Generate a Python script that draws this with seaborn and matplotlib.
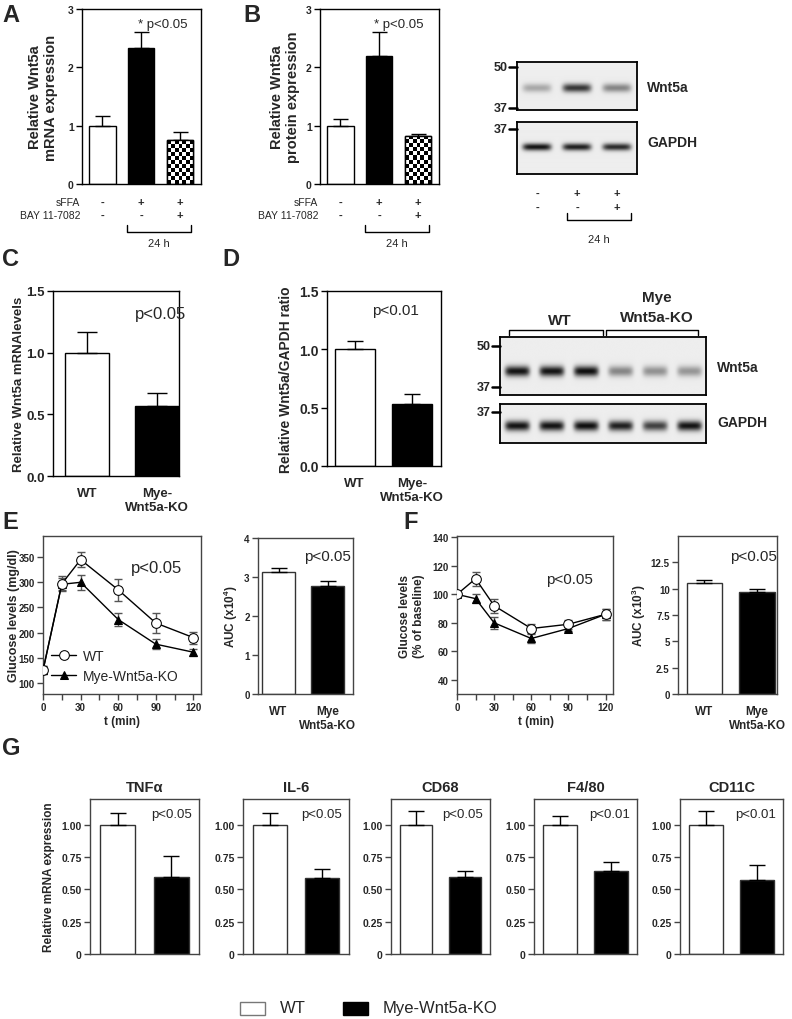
import numpy as np
import pandas as pd
import matplotlib
matplotlib.use("Agg")
import matplotlib.pyplot as plt
import seaborn as sns
from matplotlib.patches import Rectangle
from matplotlib.lines import Line2D

# ---------------- data ----------------
# Panel A (mRNA) and B (protein)
abc_groups = ["ctrl", "sFFA", "sFFA+BAY"]
a_mean = [1.0, 2.33, 0.75]
a_err = [0.16, 0.27, 0.15]
b_mean = [1.0, 2.20, 0.83]
b_err = [0.12, 0.40, 0.03]
sffa_signs = ["-", "+", "+"]
bay_signs = ["-", "-", "+"]
blot1_wnt5a = [0.30, 0.80, 0.45]
blot1_gapdh = [0.95, 0.90, 0.85]

# Panel C / D
cd_groups = ["WT", "Mye-\nWnt5a-KO"]
c_mean = [1.0, 0.57]
c_err = [0.17, 0.10]
d_mean = [1.0, 0.53]
d_err = [0.07, 0.09]
blotd_wnt5a = [0.95, 0.95, 0.97, 0.45, 0.40, 0.38]
blotd_gapdh = [0.95, 0.95, 0.97, 0.90, 0.75, 0.95]

# Panel E / F
t_min = [0, 15, 30, 60, 90, 120]
e_wt = [125, 297, 345, 285, 219, 190]
e_wt_err = [8, 15, 15, 22, 20, 12]
e_ko = [125, 296, 300, 226, 177, 161]
e_ko_err = [8, 12, 15, 12, 10, 7]
auc_groups = ["WT", "Mye\nWnt5a-KO"]
e_auc = [3.12, 2.77]
e_auc_err = [0.11, 0.13]
f_wt = [100, 111, 92, 76, 79, 86]
f_wt_err = [1, 5, 5, 3, 3, 4]
f_ko = [100, 97, 80, 69, 76, 86]
f_ko_err = [1, 3, 4, 3, 2, 4]
f_auc = [10.5, 9.7]
f_auc_err = [0.3, 0.3]

# Panel G
g_genes = ["TNFα", "IL-6", "CD68", "F4/80", "CD11C"]
g_wt = [1.0, 1.0, 1.0, 1.0, 1.0]
g_wt_err = [0.09, 0.09, 0.11, 0.07, 0.11]
g_ko = [0.60, 0.59, 0.60, 0.64, 0.57]
g_ko_err = [0.16, 0.07, 0.04, 0.07, 0.12]
g_p = ["p<0.05", "p<0.05", "p<0.05", "p<0.01", "p<0.01"]

# ---------------- setup ----------------
sns.set_theme(style="white")
plt.rcParams['font.family'] = ['Liberation Sans', 'DejaVu Sans']
plt.rcParams['mathtext.fontset'] = 'custom'
plt.rcParams['mathtext.bf'] = 'Liberation Sans:bold'
plt.rcParams['mathtext.rm'] = 'Liberation Sans'

W, H = 792, 1020
fig = plt.figure(figsize=(W / 100, H / 100), dpi=100)
fig.patch.set_facecolor('white')


def add_ax(l, t, r, b):
    return fig.add_axes([l / W, 1 - b / H, (r - l) / W, (b - t) / H])


def ftext(x, y, s, **kw):
    kw.setdefault('ha', 'center')
    kw.setdefault('va', 'center')
    return fig.text(x / W, 1 - y / H, s, **kw)


def fline(xs, ys, **kw):
    kw.setdefault('color', 'black')
    kw.setdefault('linewidth', 1)
    fig.add_artist(Line2D([x / W for x in xs], [1 - y / H for y in ys],
                          transform=fig.transFigure, **kw))


def frame(ax, color='black', lw=1.0):
    for s in ax.spines.values():
        s.set_visible(True)
        s.set_color(color)
        s.set_linewidth(lw)
    ax.tick_params(axis='y', left=True, direction='out', length=4, width=1,
                   pad=2, color=color)
    ax.tick_params(axis='x', bottom=False)
    ax.set_xlabel('')
    ax.set_ylabel('')


def ylab(ax, text, right_px, l_px, r_px, size, **kw):
    ax.set_ylabel(text, fontsize=size, fontweight='bold', **kw)
    ax.yaxis.set_label_coords((right_px - l_px) / (r_px - l_px), 0.5)


def bars(ax, cats, means, errs, colors, width, capsize, edge='black'):
    df = pd.DataFrame({'g': cats, 'v': means})
    sns.barplot(data=df, x='g', y='v', hue='g', palette=colors, width=width,
                edgecolor=edge, linewidth=1, ax=ax, legend=False,
                saturation=1, dodge=False, errorbar=None)
    ax.errorbar(np.arange(len(cats)), means,
                yerr=[np.zeros(len(errs)), errs], fmt='none', ecolor='black',
                elinewidth=1, capsize=capsize, capthick=1, zorder=1)


def checker(ax, patch, cell_px=3.9):
    bb = patch.get_window_extent()
    ncol = max(1, int(round(bb.width / cell_px)))
    nrow = max(1, int(round(bb.height / cell_px)))
    arr = (np.add.outer(np.arange(nrow), np.arange(ncol)) % 2).astype(float)
    x0, y0 = patch.get_x(), patch.get_y()
    w, h = patch.get_width(), patch.get_height()
    xl, yl = ax.get_xlim(), ax.get_ylim()
    im = ax.imshow(arr, extent=(x0, x0 + w, y0, y0 + h), cmap='gray',
                   vmin=0, vmax=1, aspect='auto', interpolation='nearest',
                   origin='lower', zorder=patch.get_zorder() + 0.1)
    im.set_clip_path(patch)
    ax.add_patch(Rectangle((x0, y0), w, h, fill=False, edgecolor='black',
                           linewidth=1, zorder=patch.get_zorder() + 0.2))
    ax.set_xlim(xl)
    ax.set_ylim(yl)


def blot(ax, intens, band_y, band_h, lane_w=0.72, bg=0.93):
    n = len(intens)
    xs = np.linspace(0, n, 600)
    ys = np.linspace(0, 1, 150)
    X, Y = np.meshgrid(xs, ys)
    img = np.full_like(X, bg)
    for i, v in enumerate(intens):
        cx = i + 0.5
        prof = np.exp(-np.abs((X - cx) / (lane_w / 2)) ** 6) * \
            np.exp(-((Y - band_y) / band_h) ** 2)
        img -= v * 0.9 * prof
    img = np.clip(img, 0, 1)
    ax.imshow(img, extent=(0, n, 0, 1), origin='lower', cmap='gray',
              vmin=0, vmax=1, aspect='auto', interpolation='bilinear')
    ax.set_xticks([])
    ax.set_yticks([])
    for s in ax.spines.values():
        s.set_visible(True)
        s.set_color('black')
        s.set_linewidth(1.3)


def marker(x_box, y, label):
    fline([x_box - 8, x_box], [y, y], linewidth=1.8)
    ftext(x_box - 9, y, label, ha='right', fontsize=9, fontweight='bold')


# ---------------- panel letters ----------------
for letter, x, y in [("A", 2, 15), ("B", 243, 15), ("C", 2, 260), ("D", 222, 260),
                     ("E", 2, 523), ("F", 403, 523), ("G", 2, 749)]:
    ftext(x, y, letter, ha='left', fontsize=17, fontweight='bold')

# ---------------- panel A / B ----------------
white_black_check = ['white', 'black', 'white']
for (l, r, means, errs, ylabel_txt, yl_right, p_x) in [
        (82, 201, a_mean, a_err, "Relative Wnt5a\nmRNA expression", 58, 163),
        (320, 439, b_mean, b_err, "Relative Wnt5a\nprotein expression", 300, 399)]:
    ax = add_ax(l, 10, r, 185)
    bars(ax, abc_groups, means, errs, white_black_check, 0.68, 5.4)
    frame(ax)
    ax.set_xlim(-0.53, 2.55)
    ax.set_ylim(0, 3)
    ax.set_yticks([0, 1, 2, 3], ['0', '1', '2', '3'], fontsize=7.5,
                  fontweight='bold')
    ax.set_xticks([])
    ylab(ax, ylabel_txt, yl_right, l, r, 10.5)
    checker(ax, ax.patches[2])
    ftext(p_x, 25, "* p<0.05", fontsize=9.5)
    xc = ax.transData.transform(np.column_stack([np.arange(3), np.zeros(3)]))[:, 0]
    for i in range(3):
        ftext(xc[i], 203, sffa_signs[i], fontsize=8, fontweight='bold')
        ftext(xc[i], 216, bay_signs[i], fontsize=8, fontweight='bold')
    ftext(l - 2, 203, "sFFA", ha='right', fontsize=7.5)
    ftext(l - 2, 216, "BAY 11-7082", ha='right', fontsize=7.5)
    bx0, bx1 = xc[1] - 14, xc[2] + 11
    fline([bx0, bx0, bx1, bx1], [226, 233, 233, 226])
    ftext((bx0 + bx1) / 2, 244, "24 h", fontsize=8)

# ---------------- blot 1 ----------------
axb = add_ax(517, 63, 637, 111)
blot(axb, blot1_wnt5a, 0.46, 0.09)
axb2 = add_ax(517, 123, 637, 175)
blot(axb2, blot1_gapdh, 0.52, 0.07)
marker(517, 68, "50")
marker(517, 109, "37")
marker(517, 130, "37")
ftext(647, 88, "Wnt5a", ha='left', fontsize=10, fontweight='bold')
ftext(647, 143, "GAPDH", ha='left', fontsize=10, fontweight='bold')
lane_c1 = [537 + 40 * i for i in range(3)]
for i in range(3):
    ftext(lane_c1[i], 194, sffa_signs[i], fontsize=8, fontweight='bold')
    ftext(lane_c1[i], 208, bay_signs[i], fontsize=8, fontweight='bold')
fline([567, 567, 631, 631], [214, 221, 221, 214])
ftext(599, 240, "24 h", fontsize=8)

# ---------------- panel C ----------------
axc = add_ax(53, 292, 179, 477)
bars(axc, cd_groups, c_mean, c_err, ['white', 'black'], 0.63, 7)
frame(axc)
axc.set_xlim(-0.49, 1.31)
axc.set_ylim(0, 1.5)
axc.set_yticks([0, 0.5, 1.0, 1.5], ['0.0', '0.5', '1.0', '1.5'], fontsize=9.5,
               fontweight='bold')
axc.set_xticks([0, 1], cd_groups, fontsize=9.5, fontweight='bold')
axc.tick_params(axis='x', pad=2)
ylab(axc, "Relative Wnt5a mRNAlevels", 25, 53, 179, 9.5)
ftext(161, 315, "p<0.05", fontsize=12)

# ---------------- panel D ----------------
axd = add_ax(327, 292, 441, 467)
bars(axd, cd_groups, d_mean, d_err, ['white', 'black'], 0.69, 6)
frame(axd)
axd.set_xlim(-0.48, 1.5)
axd.set_ylim(0, 1.5)
axd.set_yticks([0, 0.5, 1.0, 1.5], ['0.0', '0.5', '1.0', '1.5'], fontsize=10,
               fontweight='bold')
axd.set_xticks([0, 1], cd_groups, fontsize=9.5, fontweight='bold')
axd.tick_params(axis='x', pad=2)
ylab(axd, "Relative Wnt5a/GAPDH ratio", 293, 327, 441, 10)
ftext(395, 311, "p<0.01", fontsize=11)

# ---------------- blot D ----------------
axbd = add_ax(500, 338, 706, 396)
blot(axbd, blotd_wnt5a, 0.41, 0.09)
axbd2 = add_ax(500, 405, 706, 444)
blot(axbd2, blotd_gapdh, 0.44, 0.13)
marker(500, 347, "50")
marker(500, 388, "37")
marker(500, 413, "37")
ftext(717, 368, "Wnt5a", ha='left', fontsize=10, fontweight='bold')
ftext(717, 423, "GAPDH", ha='left', fontsize=10, fontweight='bold')
fline([509, 509, 603, 603], [336, 331, 331, 336])
fline([606, 606, 698, 698], [336, 331, 331, 336])
ftext(560, 321, "WT", fontsize=11, fontweight='bold')
ftext(657, 298, "Mye", fontsize=11, fontweight='bold')
ftext(657, 318, "Wnt5a-KO", fontsize=11, fontweight='bold')


# ---------------- panel E / F curves ----------------
def curves(ax, wt, wt_err, ko, ko_err, legend):
    sns.lineplot(x=t_min, y=ko, ax=ax, color='black', marker='^', markersize=6,
                 linewidth=1, markeredgecolor='black', label='Mye-Wnt5a-KO',
                 zorder=3)
    sns.lineplot(x=t_min, y=wt, ax=ax, color='black', marker='o', markersize=7,
                 markerfacecolor='white', markeredgecolor='black', linewidth=1,
                 label='WT', zorder=4)
    ax.errorbar(t_min, wt, yerr=wt_err, fmt='none', ecolor='#555',
                elinewidth=1, capsize=3, capthick=1, zorder=2)
    ax.errorbar(t_min, ko, yerr=ko_err, fmt='none', ecolor='#555',
                elinewidth=1, capsize=3, capthick=1, zorder=2)
    frame(ax, color='#444')
    ax.tick_params(axis='x', bottom=True, direction='out', length=4, width=1,
                   color='#444', pad=2)
    ax.set_xlim(0, 126)
    ax.set_xticks(list(range(0, 121, 15)),
                  ['0', '', '30', '', '60', '', '90', '', '120'],
                  fontsize=7, fontweight='bold')
    h, lbl = ax.get_legend_handles_labels()
    if legend:
        order = [lbl.index('WT'), lbl.index('Mye-Wnt5a-KO')]
        ax.legend([h[i] for i in order], [lbl[i] for i in order],
                  loc='lower left', frameon=False, fontsize=10,
                  handlelength=1.8, borderaxespad=0.2, labelspacing=0.4,
                  handletextpad=0.5, bbox_to_anchor=(0.0, 0.02))
    else:
        if ax.get_legend() is not None:
            ax.get_legend().remove()


axe = add_ax(43, 537, 201, 695)
curves(axe, e_wt, e_wt_err, e_ko, e_ko_err, True)
axe.set_ylim(78, 392)
axe.set_yticks([100, 150, 200, 250, 300, 350],
               ['100', '150', '200', '250', '300', '350'], fontsize=7,
               fontweight='bold')
ylab(axe, "Glucose levels (mg/dl)", 20, 43, 201, 9)
ftext(157, 568, "p<0.05", fontsize=12)
ftext(122, 722, "t (min)", fontsize=8.5, fontweight='bold')

axf = add_ax(457, 537, 613, 695)
curves(axf, f_wt, f_wt_err, f_ko, f_ko_err, False)
axf.set_ylim(30, 141)
axf.set_yticks([40, 60, 80, 100, 120, 140],
               ['40', '60', '80', '100', '120', '140'], fontsize=7,
               fontweight='bold')
ylab(axf, "Glucose levels\n(% of baseline)", 425, 457, 613, 8.5)
ftext(569, 580, "p<0.05", fontsize=11)
ftext(536, 722, "t (min)", fontsize=8.5, fontweight='bold')

# ---------------- AUC bars ----------------
axea = add_ax(258, 539, 353, 695)
bars(axea, auc_groups, e_auc, e_auc_err, ['white', 'black'], 0.68, 6,
     edge='#333')
frame(axea, color='#444')
axea.set_xlim(-0.42, 1.52)
axea.set_ylim(0, 4)
axea.set_yticks([0, 1, 2, 3, 4], ['0', '1', '2', '3', '4'], fontsize=7,
                fontweight='bold')
axea.set_xticks([0, 1], auc_groups, fontsize=8.5, fontweight='bold')
axea.tick_params(axis='x', pad=2)
ylab(axea, r"AUC (x10$^{\mathbf{4}}$)", 240, 258, 353, 8.5)
ftext(327, 557, "p<0.05", fontsize=11)

axfa = add_ax(678, 537, 777, 695)
bars(axfa, auc_groups, f_auc, f_auc_err, ['white', 'black'], 0.67, 6,
     edge='#333')
frame(axfa, color='#444')
axfa.set_xlim(-0.5, 1.38)
axfa.set_ylim(0, 15)
axfa.set_yticks([0, 2.5, 5, 7.5, 10, 12.5],
                ['0', '2.5', '5', '7.5', '10', '12.5'], fontsize=7,
                fontweight='bold')
axfa.set_xticks([0, 1], auc_groups, fontsize=8.5, fontweight='bold')
axfa.tick_params(axis='x', pad=2)
ylab(axfa, r"AUC (x10$^{\mathbf{3}}$)", 648, 678, 777, 8.5)
ftext(753, 557, "p<0.05", fontsize=11)

# ---------------- panel G ----------------
g_lefts = [90, 243, 391, 534, 680]
g_rights = [199, 349, 490, 637, 783]
for i, gene in enumerate(g_genes):
    l, r = g_lefts[i], g_rights[i]
    ax = add_ax(l, 800, r, 955)
    bars(ax, ["WT", "Mye-Wnt5a-KO"], [g_wt[i], g_ko[i]],
         [g_wt_err[i], g_ko_err[i]], ['white', 'black'], 0.65, 6, edge='#333')
    frame(ax, color='#444')
    ax.set_xlim(-0.51, 1.51)
    ax.set_ylim(0, 1.2)
    ax.set_yticks([0, 0.25, 0.5, 0.75, 1.0],
                  ['0', '0.25', '0.50', '0.75', '1.00'], fontsize=7.5,
                  fontweight='bold')
    ax.set_xticks([])
    ax.set_title(gene, fontsize=10.5, fontweight='bold', pad=6)
    ftext(r - 27, 815, g_p[i], fontsize=9.5)
    if i == 0:
        ylab(ax, "Relative mRNA expression", 55, l, r, 8.5)

# ---------------- bottom legend ----------------
fig.add_artist(Rectangle((240 / W, 1 - 1016 / H), 25 / W, 13 / H,
                         transform=fig.transFigure, facecolor='white',
                         edgecolor='#777', linewidth=1))
ftext(280, 1009, "WT", ha='left', fontsize=12)
fig.add_artist(Rectangle((343 / W, 1 - 1016 / H), 25 / W, 13 / H,
                         transform=fig.transFigure, facecolor='black',
                         edgecolor='black', linewidth=1))
ftext(383, 1009, "Mye-Wnt5a-KO", ha='left', fontsize=12)

fig.savefig("out.png", dpi=100, facecolor='white')
